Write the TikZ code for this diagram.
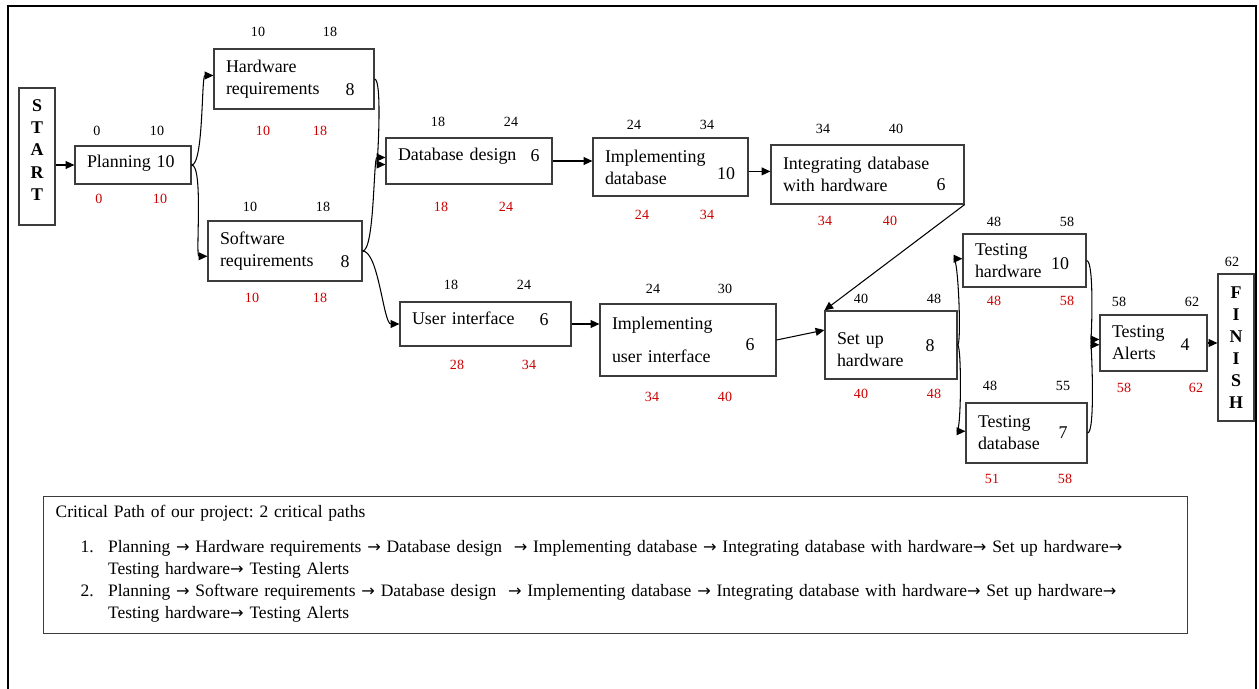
\documentclass[tikz,border=0pt]{standalone}
\usepackage{fontspec}
\setmainfont{Liberation Serif}
\newfontfamily\arrowfont{DejaVu Sans}
\usetikzlibrary{arrows.meta, calc}
\definecolor{latered}{RGB}{204,0,0}
\definecolor{boxgray}{RGB}{60,60,60}
\newcommand\cparrow{{\arrowfont\fontsize{9.2}{12.5}\selectfont →}}
\frenchspacing
\tikzset{
	task/.style 2 args = {draw = boxgray, line width = 0.7pt, align = left, inner xsep = 0.24cm, inner ysep = 0pt, text width = #1, minimum height = #2},
	edge/.style = {draw = boxgray, line width = 0.7pt, align = center, inner sep = 0pt, minimum width = 0.72cm, font = \bfseries\fontsize{10.2}{12.6}\selectfont},
	dur/.style = {inner sep = 0pt},
	early/.style = {inner sep = 0pt, font = \fontsize{8}{9.6}\selectfont},
	late/.style = {early, text = latered},
	arr/.style = {-{Triangle[length = 5pt, width = 4.5pt]}, line width = 0.6pt}
}
\begin{document}
\begin{tikzpicture}[x = 0.02cm, y = -0.02cm, font = \fontsize{10.2}{12.5}\selectfont]
\useasboundingbox (0, 0) rectangle (1259, 689);
\draw[line width = 1.2pt] (8, 689) -- (8, 6) -- (1256, 6) -- (1256, 689);
\node[edge, minimum height = 2.74cm, text depth = 7.4pt] (start) at (37, 156.5) {S\\T\\A\\R\\T};
\node[edge, minimum height = 2.94cm] (finish) at (1236, 347.5) {F\\I\\N\\I\\S\\H};
\node[task = {1.84cm}{0.76cm}, text depth = 4.5pt] (plan) at (133, 165) {Planning 10};
\node[task = {2.72cm}{1.2cm}] (hw) at (294, 79) {Hardware\\requirements};
\node[task = {2.6cm}{1.2cm}] (sw) at (285, 251) {Software\\requirements};
\node[task = {2.84cm}{0.92cm}, text depth = 7.8pt] (db) at (469, 161) {Database design};
\node[task = {2.62cm}{1.16cm}] (idb) at (670.5, 167) {Implementing\\database};
\node[task = {3.38cm}{1.18cm}] (integ) at (867.5, 174.5) {Integrating database\\with hardware};
\node[task = {2.94cm}{0.88cm}, text depth = 6.8pt] (ui) at (485.5, 324) {User interface};
\node[task = {3.04cm}{1.44cm}] (iui) at (688, 340) {Implementing\\[6.2pt]user interface};
\node[task = {2.16cm}{1.36cm}, text depth = 7.4pt] (setup) at (891, 345) {Set up\\hardware};
\node[task = {1.98cm}{1.06cm}] (thw) at (1024.5, 260.5) {Testing\\hardware};
\node[task = {1.94cm}{1.2cm}] (tdb) at (1026.5, 433) {Testing\\database};
\node[task = {1.66cm}{1.12cm}] (alerts) at (1153.5, 343) {Testing\\Alerts};
\node[dur] (hw-d) at (350, 90) {8};
\node[dur] (sw-d) at (345, 262) {8};
\node[dur] (db-d) at (535, 156) {6};
\node[dur] (idb-d) at (726, 174) {10};
\node[dur] (integ-d) at (941, 185) {6};
\node[dur] (ui-d) at (544, 320) {6};
\node[dur] (iui-d) at (750, 345) {6};
\node[dur] (setup-d) at (930, 346) {8};
\node[dur] (thw-d) at (1060, 264) {10};
\node[dur] (tdb-d) at (1063, 433) {7};
\node[dur] (alerts-d) at (1185, 345) {4};
\node[early] (plan-es) at (97, 131) {0};
\node[early] (plan-ef) at (157, 131) {10};
\node[early] (hw-es) at (258, 32) {10};
\node[early] (hw-ef) at (330, 32) {18};
\node[early] (sw-es) at (250, 207) {10};
\node[early] (sw-ef) at (323, 207) {18};
\node[early] (db-es) at (438, 122) {18};
\node[early] (db-ef) at (511, 122) {24};
\node[early] (idb-es) at (634, 125) {24};
\node[early] (idb-ef) at (707, 125) {34};
\node[early] (integ-es) at (823, 129) {34};
\node[early] (integ-ef) at (896, 129) {40};
\node[early] (ui-es) at (451, 285) {18};
\node[early] (ui-ef) at (524, 285) {24};
\node[early] (iui-es) at (653, 289) {24};
\node[early] (iui-ef) at (725, 289) {30};
\node[early] (setup-es) at (861, 299) {40};
\node[early] (setup-ef) at (934, 299) {48};
\node[early] (thw-es) at (994, 222) {48};
\node[early] (thw-ef) at (1067, 222) {58};
\node[early] (tdb-es) at (990, 386) {48};
\node[early] (tdb-ef) at (1063, 386) {55};
\node[early] (alerts-es) at (1119, 302) {58};
\node[early] (alerts-ef) at (1192, 302) {62};
\node[early] (finish-t) at (1232, 262) {62};
\node[late] (plan-ls) at (99, 199) {0};
\node[late] (plan-lf) at (160, 199) {10};
\node[late] (hw-ls) at (263, 131) {10};
\node[late] (hw-lf) at (320, 131) {18};
\node[late] (sw-ls) at (252, 298) {10};
\node[late] (sw-lf) at (320, 298) {18};
\node[late] (db-ls) at (441, 207) {18};
\node[late] (db-lf) at (506, 207) {24};
\node[late] (idb-ls) at (642, 215) {24};
\node[late] (idb-lf) at (707, 215) {34};
\node[late] (integ-ls) at (825, 221) {34};
\node[late] (integ-lf) at (890, 221) {40};
\node[late] (ui-ls) at (457, 365) {28};
\node[late] (ui-lf) at (529, 365) {34};
\node[late] (iui-ls) at (652, 397) {34};
\node[late] (iui-lf) at (725, 397) {40};
\node[late] (setup-ls) at (861, 394) {40};
\node[late] (setup-lf) at (934, 394) {48};
\node[late] (thw-ls) at (994, 301) {48};
\node[late] (thw-lf) at (1067, 301) {58};
\node[late] (tdb-ls) at (992, 479) {51};
\node[late] (tdb-lf) at (1065, 479) {58};
\node[late] (alerts-ls) at (1124, 388) {58};
\node[late] (alerts-lf) at (1196, 388) {62};
\draw[arr] (start.east |- plan.west) -- (plan.west);
\draw[arr] (plan.east) .. controls +(12, 0) and +(-12, 0) .. ([yshift = 2pt] hw.west);
\draw[arr] (plan.east) .. controls +(12, 0) and +(-12, 0) .. ([yshift = -3pt] sw.west);
\draw[arr] (hw.east) .. controls +(8, 0) and +(-8, 0) .. ([yshift = -2pt] db.west);
\draw[arr] (sw.east) .. controls +(12, 0) and +(-12, 0) .. ([yshift = 2pt] db.west);
\draw[arr] (sw.east) .. controls +(16, 0) and +(-16, 0) .. (ui.west);
\draw[arr] (db.east) -- (db.east -| idb.west);
\draw[arr] ([yshift = -2.5pt] idb.east) -- ([yshift = -2.5pt] idb.east -| integ.west);
\draw[arr] (ui.east) -- (ui.east -| iui.west);
\draw[arr] (integ.south east) -- (setup.north west);
\draw[arr] (iui.east) -- ([yshift = 8.5pt] setup.west);
\draw[arr] (setup.east) .. controls +(4, 0) and +(-4, 0) .. ([yshift = 1pt] thw.west);
\draw[arr] (setup.east) .. controls +(4, 0) and +(-4, 0) .. ([yshift = 1pt] tdb.west);
\draw[arr] (thw.east) .. controls +(8, 0) and +(-8, 0) .. ([yshift = 2pt] alerts.west);
\draw[arr] (tdb.east) .. controls +(8, 0) and +(-8, 0) .. ([yshift = -1pt] alerts.west);
\draw[arr] (alerts.east) -- (alerts.east -| finish.west);
\node[draw = boxgray, line width = 0.7pt, anchor = north west, align = left, inner xsep = 0.24cm, inner ysep = 0pt, text width = 22.4cm, minimum height = 2.74cm, font = \fontsize{9.95}{12.5}\selectfont] (paths) at (43, 496)
	{Critical Path of our project: 2 critical paths\\[7.3pt]
	\begin{tabular}[t]{@{\hspace{14.2pt}}r@{\hspace{8.2pt}}l@{}}
	1. & Planning \cparrow{} Hardware requirements \cparrow{} Database design~ \cparrow{} Implementing database \cparrow{} Integrating database with hardware\cparrow{} Set up hardware\cparrow\\
	 & Testing hardware\cparrow{} Testing Alerts\\
	2. & Planning \cparrow{} Software requirements \cparrow{} Database design~ \cparrow{} Implementing database \cparrow{} Integrating database with hardware\cparrow{} Set up hardware\cparrow\\
	 & Testing hardware\cparrow{} Testing Alerts
	\end{tabular}};
\end{tikzpicture}
\end{document}
